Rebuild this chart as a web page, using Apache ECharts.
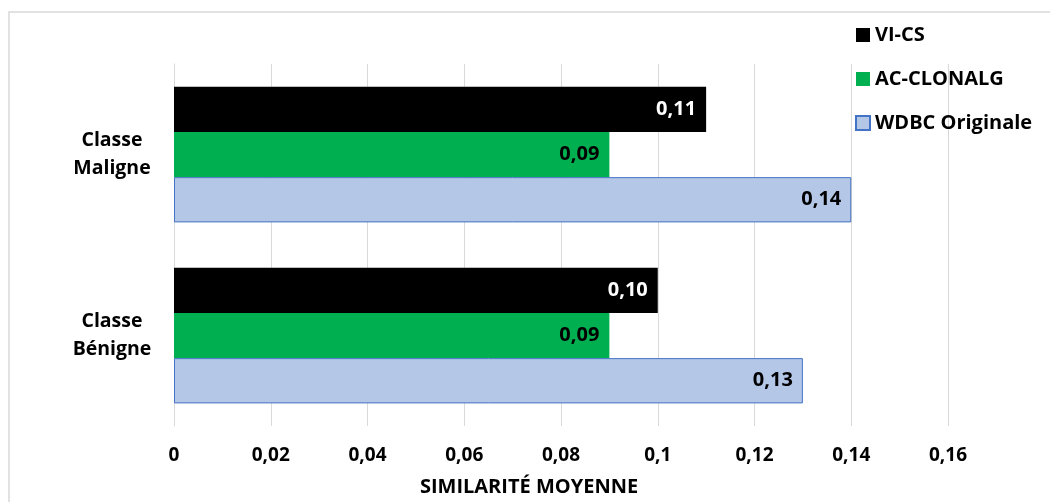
<!DOCTYPE html>
<html>
<head>
<meta charset="utf-8">
<script src="https://cdn.jsdelivr.net/npm/echarts@6/dist/echarts.min.js"></script>
<style>
  html, body { margin: 0; padding: 0; background: #fff; }
  #chart { width: 1050px; height: 502px; }
</style>
</head>
<body>
<div id="chart"></div>
<script>
// Catégories (de bas en haut) et valeurs de similarité moyenne
const categories = ['Classe\nBénigne', 'Classe\nMaligne'];
const seriesNames = ['VI-CS', 'AC-CLONALG', 'WDBC Originale'];
const viCs = [0.10, 0.11];
const acClonalg = [0.09, 0.09];
const wdbcOriginale = [0.13, 0.14];
const xTicks = [0, 0.02, 0.04, 0.06, 0.08, 0.1, 0.12, 0.14, 0.16];

const FONT = '"Open Sans", Lato, sans-serif';
const fmt = v => String(v).replace('.', ',');
const fmt2 = v => v.toFixed(2).replace('.', ',');

const chart = echarts.init(document.getElementById('chart'));

function barSeries(name, data, color, labelColor, border) {
  return {
    name: name,
    type: 'bar',
    data: data,
    barGap: '0%',
    barCategoryGap: '25%',
    itemStyle: {
      color: color,
      borderColor: border || color,
      borderWidth: border ? 1 : 0
    },
    label: {
      show: true,
      position: 'insideRight',
      distance: 10,
      color: labelColor,
      fontFamily: FONT,
      fontWeight: 'bold',
      fontSize: 20,
      formatter: p => fmt2(p.value)
    }
  };
}

chart.setOption({
  animation: false,
  backgroundColor: '#fff',
  graphic: [{
    type: 'rect',
    shape: { x: 9, y: 12, width: 1100, height: 600 },
    style: { fill: 'none', stroke: '#d9d9d9', lineWidth: 1.5 },
    silent: true,
    z: -1
  }],
  legend: {
    orient: 'vertical',
    left: 850,
    top: 20,
    itemWidth: 14,
    itemHeight: 14,
    itemGap: 24,
    icon: 'rect',
    textStyle: { fontFamily: FONT, fontWeight: 'bold', fontSize: 20, color: '#000' },
    data: seriesNames
  },
  grid: { left: 174, right: 102, top: 64, bottom: 73, containLabel: false },
  xAxis: {
    type: 'value',
    min: 0,
    max: 0.16,
    interval: 0.02,
    name: 'SIMILARITÉ MOYENNE',
    nameLocation: 'middle',
    nameGap: 51,
    nameTextStyle: {
      fontFamily: FONT, fontWeight: 'bold', fontSize: 20, color: '#000',
      padding: [0, 64, 0, 0]
    },
    axisLine: { show: false },
    axisTick: { show: false },
    splitLine: { show: true, lineStyle: { color: '#d9d9d9', width: 1 } },
    axisLabel: {
      margin: 20,
      fontFamily: FONT,
      fontWeight: 'bold',
      fontSize: 19,
      color: '#000',
      customValues: xTicks,
      formatter: v => fmt(+v.toFixed(2))
    }
  },
  yAxis: {
    type: 'category',
    data: categories,
    axisLine: { show: true, lineStyle: { color: '#d9d9d9' } },
    axisTick: { show: false },
    axisLabel: {
      margin: 62,
      align: 'center',
      lineHeight: 28,
      padding: [4, 0, 0, 0],
      fontFamily: FONT,
      fontWeight: 'bold',
      fontSize: 19.5,
      color: '#000'
    }
  },
  series: [
    barSeries(seriesNames[0], viCs, '#000000', '#ffffff'),
    barSeries(seriesNames[1], acClonalg, '#00b050', '#000000'),
    barSeries(seriesNames[2], wdbcOriginale, '#b4c7e7', '#000000', '#4472c4')
  ]
});
</script>
</body>
</html>
